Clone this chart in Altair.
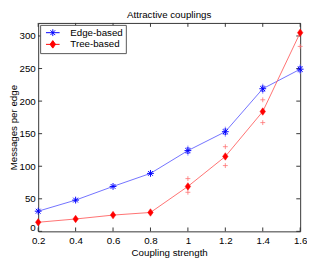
import altair as alt
import pandas as pd

# ---- data ----
coupling = [0.2, 0.4, 0.6, 0.8, 1.0, 1.2, 1.4, 1.6]
edge_based = [31, 48, 69, 89, 124, 153, 219, 249]
tree_based = [14, 19, 25, 29, 69, 115, 184, 305]

edge_samples_x = [1.0, 1.0, 1.2, 1.2, 1.4, 1.4, 1.6, 1.6]
edge_samples_y = [128, 120, 157, 149, 223, 215, 253, 245]
tree_samples_x = [1.0, 1.0, 1.2, 1.2, 1.4, 1.4, 1.6]
tree_samples_y = [81, 60, 130, 101, 202, 167, 284]

series_names = ["Edge-based", "Tree-based"]
x_ticks = [0.2, 0.4, 0.6, 0.8, 1.0, 1.2, 1.4, 1.6]
y_ticks = [0, 50, 100, 150, 200, 250, 300]

FONT = "Liberation Sans"
W, H = 269, 214
TICK = 4

edge_df = pd.DataFrame({"x": coupling, "y": edge_based})
tree_df = pd.DataFrame({"x": coupling, "y": tree_based})
edge_s = pd.DataFrame({"x": edge_samples_x, "y": edge_samples_y})
tree_s = pd.DataFrame({"x": tree_samples_x, "y": tree_samples_y})
legend_df = pd.DataFrame({"x": coupling[:2], "y": edge_based[:2], "series": series_names})
xt_df = pd.DataFrame({"v": x_ticks})
yt_df = pd.DataFrame({"v": y_ticks})

ASTER = "M-1,0L1,0M0,-1L0,1M-0.7,-0.7L0.7,0.7M-0.7,0.7L0.7,-0.7"
DIAM = "M0,-1.1L0.8,0L0,1.1L-0.8,0Z"
PLUS = "M-1,0L1,0M0,-1L0,1"
ASTER_LEG = "M-2,0L2,0M0,-1L0,1M-0.7,-0.7L0.7,0.7M-0.7,0.7L0.7,-0.7"
DIAM_LEG = "M0,-1.1L0.8,0L0,1.1L-0.8,0Z M-2,0L2,0"

xs = alt.Scale(domain=[0.2, 1.6], nice=False, zero=False)
ys = alt.Scale(domain=[0, 320], nice=False, zero=True)

x_axis = alt.Axis(values=x_ticks, ticks=False, tickSize=0, domain=False, grid=False,
                  labelPadding=4, labelFontSize=10, labelFont=FONT, labelColor="black",
                  labelFlush=False, labelOverlap=False,
                  labelExpr="format(datum.value, '.1~f')",
                  title="Coupling strength", titleFont=FONT, titleFontSize=10,
                  titleFontWeight="normal", titleColor="black", titlePadding=3)
y_axis = alt.Axis(values=y_ticks, ticks=False, tickSize=0, domain=False, grid=False,
                  labelPadding=3, labelFontSize=10, labelFont=FONT, labelColor="black",
                  labelFlush=True, labelFlushOffset=1, labelOverlap=False,
                  title="Messages per edge", titleFont=FONT, titleFontSize=10,
                  titleFontWeight="normal", titleColor="black", titlePadding=1)

X = alt.X("x:Q", scale=xs, axis=x_axis)
Y = alt.Y("y:Q", scale=ys, axis=y_axis)

edge_line = alt.Chart(edge_df).mark_line(color="#7070ff", strokeWidth=1).encode(x=X, y=Y)
tree_line = alt.Chart(tree_df).mark_line(color="#ff7070", strokeWidth=1).encode(x=X, y=Y)

edge_samp = alt.Chart(edge_s).mark_point(shape=PLUS, filled=False, color="#6a6aff",
                                          size=25, strokeWidth=0.8, opacity=1).encode(x=X, y=Y)
tree_samp = alt.Chart(tree_s).mark_point(shape=PLUS, filled=False, color="#ff7070",
                                          size=25, strokeWidth=0.8, opacity=1).encode(x=X, y=Y)

edge_pts = alt.Chart(edge_df).mark_point(shape=ASTER, filled=False, color="#0000ff",
                                          size=49, strokeWidth=1, opacity=1).encode(x=X, y=Y)
tree_pts = alt.Chart(tree_df).mark_point(shape=DIAM, filled=True, color="#ff0000",
                                          size=49, strokeWidth=0.5, stroke="#ff0000",
                                          opacity=1).encode(x=X, y=Y)

leg = alt.Legend(title=None, orient="top-left", offset=2, padding=3,
                 strokeColor="#555555", fillColor="white",
                 labelFont=FONT, labelFontSize=10, labelColor="black",
                 symbolSize=49, symbolStrokeWidth=1, symbolOffset=5,
                 labelOffset=13, rowPadding=0)
legend_layer = alt.Chart(legend_df).transform_filter("false").mark_point(
    filled=True, size=49, strokeWidth=1, opacity=1
).encode(
    x=X, y=Y,
    shape=alt.Shape("series:N", scale=alt.Scale(domain=series_names, range=[ASTER_LEG, DIAM_LEG]), legend=leg),
    stroke=alt.Stroke("series:N", scale=alt.Scale(domain=series_names, range=["#0000ff", "#ff0000"]), legend=leg),
    fill=alt.Fill("series:N", scale=alt.Scale(domain=series_names, range=["transparent", "#ff0000"]), legend=leg),
)

tick_col = "#333333"
xt_bottom = alt.Chart(xt_df).mark_rule(color=tick_col, strokeWidth=1).encode(
    x=alt.X("v:Q", scale=xs, axis=x_axis), y=alt.value(H - TICK), y2=alt.value(H))
xt_top = alt.Chart(xt_df).mark_rule(color=tick_col, strokeWidth=1).encode(
    x=alt.X("v:Q", scale=xs, axis=x_axis), y=alt.value(0), y2=alt.value(TICK))
yt_left = alt.Chart(yt_df).mark_rule(color=tick_col, strokeWidth=1).encode(
    y=alt.Y("v:Q", scale=ys, axis=y_axis), x=alt.value(0), x2=alt.value(TICK))
yt_right = alt.Chart(yt_df).mark_rule(color=tick_col, strokeWidth=1).encode(
    y=alt.Y("v:Q", scale=ys, axis=y_axis), x=alt.value(W - TICK), x2=alt.value(W))

chart = alt.layer(
    xt_bottom, xt_top, yt_left, yt_right,
    edge_line, tree_line, edge_samp, tree_samp, edge_pts, tree_pts, legend_layer
).properties(
    width=W, height=H,
    title=alt.TitleParams("Attractive couplings", font=FONT, fontSize=10,
                          fontWeight="normal", color="black", anchor="middle", offset=3),
    autosize=alt.AutoSizeParams(type="none"),
    padding={"left": 31, "top": 12, "right": 7, "bottom": 24},
    background="white",
).configure_view(stroke="#333333", strokeWidth=1)

chart.save("out.html", embed_options={"renderer": "svg", "actions": False})
